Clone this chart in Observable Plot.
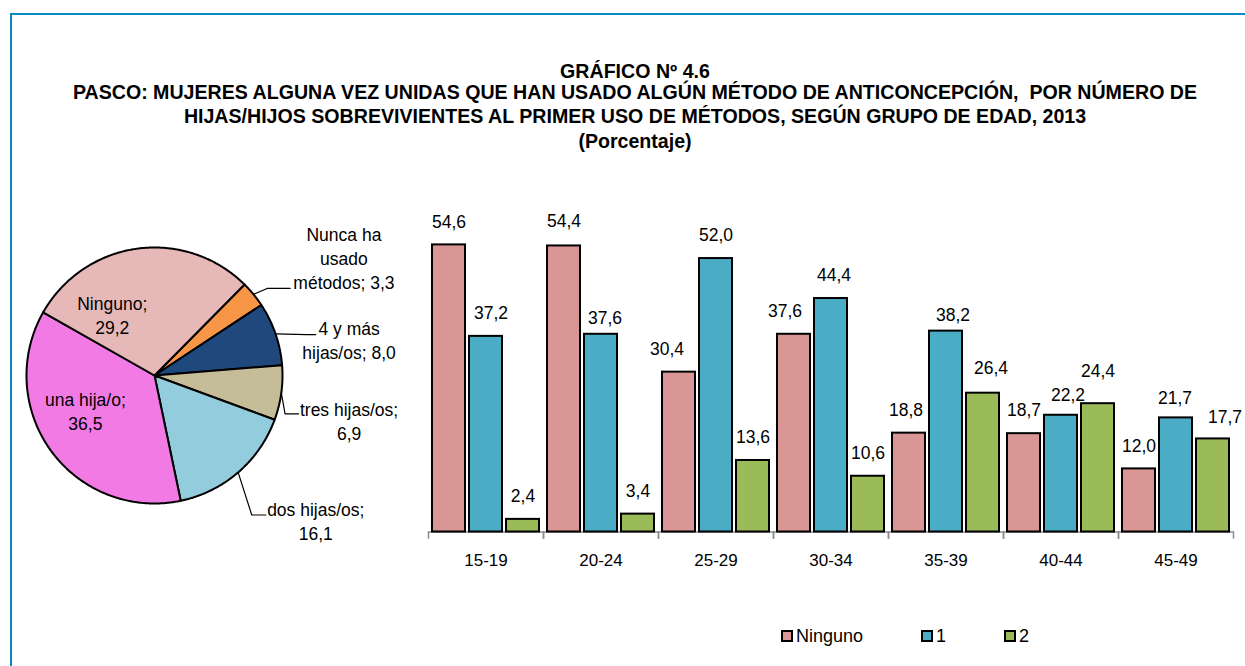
<!DOCTYPE html>
<html><head><meta charset="utf-8">
<script src="https://cdn.jsdelivr.net/npm/d3@7"></script>
<script src="https://cdn.jsdelivr.net/npm/@observablehq/plot@0.6"></script>
<style>
  html, body { margin: 0; padding: 0; background: #fff; }
  body { width: 1245px; height: 666px; overflow: hidden; position: relative;
         font-family: 'Liberation Sans Narrow', 'Arial Narrow', 'Liberation Sans', Arial, sans-serif; color: #000; }
  #frame { position: absolute; left: 10px; top: 13px; width: 1300px; height: 700px;
           border-top: 2px solid #0A89BC; border-left: 2px solid #0A89BC; }
  .tl { position: absolute; left: 35px; width: 1200px; height: 24px; line-height: 24px;
        text-align: center; font-weight: bold; font-size: 19.6px; white-space: pre; }
  #pie { position: absolute; left: 0; top: 190px; }
  #bars { position: absolute; left: 405px; top: 180px; }
  #legend { position: absolute; left: 781px; top: 624px; height: 24px; display: flex; align-items: center; font-size: 18px; }
  .li { display: flex; align-items: center; margin-right: 58px; }
  .sw { width: 12px; height: 12px; box-sizing: border-box; border: 2px solid #000; margin-right: 3px; }
  svg { overflow: visible; }
</style>
</head><body>
<div id="frame"></div>
<div id="title"></div>
<div id="pie"></div>
<div id="bars"></div>
<div id="legend"></div>
<script>
const FONT = "'Liberation Sans Narrow', 'Arial Narrow', 'Liberation Sans', Arial, sans-serif";

// ---------- Data ----------
const titleLines = [
  "GRÁFICO Nº 4.6",
  "PASCO: MUJERES ALGUNA VEZ UNIDAS QUE HAN USADO ALGÚN MÉTODO DE ANTICONCEPCIÓN,  POR NÚMERO DE",
  "HIJAS/HIJOS SOBREVIVIENTES AL PRIMER USO DE MÉTODOS, SEGÚN GRUPO DE EDAD, 2013",
  "(Porcentaje)"
];

const pieCats   = ["Nunca ha usado métodos", "4 y más hijas/os", "tres hijas/os", "dos hijas/os", "una hija/o", "Ninguno"];
const pieValues = [3.3, 8.0, 6.9, 16.1, 36.5, 29.2];
const pieColors = ["#F79646", "#1F497D", "#C4BD97", "#93CDDD", "#F27AE4", "#E6B9B8"];

const groups  = ["15-19", "20-24", "25-29", "30-34", "35-39", "40-44", "45-49"];
const series  = ["Ninguno", "1", "2"];
const serNinguno = [54.6, 54.4, 30.4, 37.6, 18.8, 18.7, 12.0];
const serUno     = [37.2, 37.6, 52.0, 44.4, 38.2, 22.2, 21.7];
const serDos     = [2.4, 3.4, 13.6, 10.6, 26.4, 24.4, 17.7];
const barColors  = ["#DA9694", "#4BACC6", "#9BBB59"];

// ---------- Layout (not data) ----------
const fmt = v => v.toFixed(1).replace(".", ",");
const PIE = {W: 410, H: 380, cx: 154, cy: 185, R: 128, start: 44.7};
const pieLayout = {
  "Nunca ha usado métodos": {lines: ["Nunca ha", "usado", "métodos"], inline: true, at: [1.48, 0.92], leader: [[0.88, 0.68], [1.06, 0.68]]},
  "4 y más hijas/os":       {lines: ["4 y más", "hijas/os"], inline: true, at: [1.52, 0.28], leader: [[1.19, 0.32], [1.26, 0.32]]},
  "tres hijas/os":          {lines: ["tres hijas/os"], inline: false, at: [1.52, -0.35], leader: [[1.02, -0.30], [1.125, -0.30]]},
  "dos hijas/os":           {lines: ["dos hijas/os"], inline: false, at: [1.26, -1.13], leader: [[0.76, -1.09], [0.87, -1.09]]},
  "una hija/o":             {lines: ["una hija/o"], inline: false, at: [-0.54, -0.27]},
  "Ninguno":                {lines: ["Ninguno"], inline: false, at: [-0.33, 0.48]}
};
const labelNudge = {
  "15-19|1": [5, -23], "20-24|Ninguno": [0, -25], "20-24|1": [4, -16],
  "25-29|Ninguno": [-12, -23], "30-34|Ninguno": [-9, -23], "30-34|1": [3, -23],
  "35-39|Ninguno": [-3, -23], "35-39|1": [7, -16], "35-39|2": [8, -25],
  "40-44|1": [7, -20], "40-44|2": [0, -32], "45-49|1": [-1, -20], "45-49|2": [12, -22]
};

// ---------- Title ----------
const titleCenters = [71, 92, 116, 141];
titleLines.forEach((t, i) => {
  const d = document.createElement("div");
  d.className = "tl";
  d.style.top = (titleCenters[i] - 12) + "px";
  d.textContent = t;
  document.getElementById("title").appendChild(d);
});

// ---------- Pie ----------
const pieData = pieCats.map((name, i) => ({name, value: pieValues[i]}));
const toRad = a => a * Math.PI / 180;
const arcs = d3.pie().sort(null).value(d => d.value)
  .startAngle(toRad(PIE.start)).endAngle(toRad(PIE.start) + 2 * Math.PI)(pieData);

const slicePts = [];
for (const a of arcs) {
  slicePts.push({name: a.data.name, x: 0, y: 0});
  const n = Math.max(2, Math.ceil((a.endAngle - a.startAngle) / toRad(0.5)));
  for (let k = 0; k <= n; k++) {
    const t = a.startAngle + (a.endAngle - a.startAngle) * k / n;
    slicePts.push({name: a.data.name, x: Math.sin(t), y: Math.cos(t)});
  }
  slicePts.push({name: a.data.name, x: 0, y: 0});
}

const leaderPts = [];
const pieLabels = [];
for (const a of arcs) {
  const L = pieLayout[a.data.name];
  const mid = (a.startAngle + a.endAngle) / 2;
  if (L.leader) {
    leaderPts.push({name: a.data.name, x: Math.sin(mid), y: Math.cos(mid)});
    for (const p of L.leader) leaderPts.push({name: a.data.name, x: p[0], y: p[1]});
  }
  pieLabels.push({
    x: L.at[0], y: L.at[1],
    text: L.lines.join("\n") + (L.inline ? "; " : ";\n") + fmt(a.data.value)
  });
}

const pie = Plot.plot({
  width: PIE.W, height: PIE.H,
  marginLeft: 0, marginRight: 0, marginTop: 0, marginBottom: 0,
  style: {fontFamily: FONT, fontSize: "17.5px", background: "transparent", overflow: "visible"},
  x: {domain: [-PIE.cx / PIE.R, (PIE.W - PIE.cx) / PIE.R], range: [0, PIE.W], axis: null},
  y: {domain: [-(PIE.H - PIE.cy) / PIE.R, PIE.cy / PIE.R], range: [PIE.H, 0], axis: null},
  color: {domain: pieCats, range: pieColors},
  marks: [
    Plot.line(slicePts, {x: "x", y: "y", z: "name", fill: "name", stroke: "#000", strokeWidth: 2, strokeLinejoin: "round"}),
    Plot.line(leaderPts, {x: "x", y: "y", z: "name", stroke: "#000", strokeWidth: 1.2}),
    Plot.text(pieLabels, {x: "x", y: "y", text: "text", fill: "#000", fontSize: 17.5, lineHeight: 1.37})
  ]
});
document.getElementById("pie").appendChild(pie);

// ---------- Bars ----------
const serValues = [serNinguno, serUno, serDos];
const rows = [];
groups.forEach((g, gi) => series.forEach((s, si) => rows.push({group: g, series: s, value: serValues[si][gi]})));

const BW = 840, BH = 420, MT = 36, MB = 68.5;
const labelMarks = rows.map(r => {
  const nd = labelNudge[r.group + "|" + r.series] || [0, -23];
  return Plot.text([r], {fx: "group", x: "series", y: "value", text: d => fmt(d.value),
    dx: nd[0], dy: nd[1], fill: "#000", fontSize: 17.5});
});

const bars = Plot.plot({
  width: BW, height: BH, marginLeft: 21, marginRight: 10.5, marginTop: MT, marginBottom: MB,
  style: {fontFamily: FONT, fontSize: "17px", color: "#000", background: "transparent", overflow: "visible"},
  fx: {domain: groups, padding: 0, label: null, axis: "bottom", tickSize: 0, tickPadding: 22},
  x: {domain: series, paddingInner: 0.12, paddingOuter: 0.1, axis: null},
  y: {domain: [0, 60], axis: null},
  color: {domain: series, range: barColors},
  marks: [
    Plot.ruleY([0], {stroke: "#8C8C8C", strokeWidth: 1.5}),
    Plot.frame({anchor: "left", stroke: "#8C8C8C", strokeWidth: 1.5, insetTop: BH - MT - MB, insetBottom: -6}),
    Plot.frame({anchor: "right", stroke: "#8C8C8C", strokeWidth: 1.5, insetTop: BH - MT - MB, insetBottom: -6}),
    Plot.barY(rows, {fx: "group", x: "series", y: "value", fill: "series", stroke: "#000", strokeWidth: 2}),
    ...labelMarks
  ]
});
document.getElementById("bars").appendChild(bars);

// ---------- Legend ----------
const cs = bars.scale("color");
const lg = document.getElementById("legend");
cs.domain.forEach((s, i) => {
  const it = document.createElement("div");
  it.className = "li";
  const sw = document.createElement("div");
  sw.className = "sw";
  sw.style.background = cs.range[i];
  const tx = document.createElement("span");
  tx.textContent = s;
  it.appendChild(sw); it.appendChild(tx);
  lg.appendChild(it);
});
</script>
</body></html>
